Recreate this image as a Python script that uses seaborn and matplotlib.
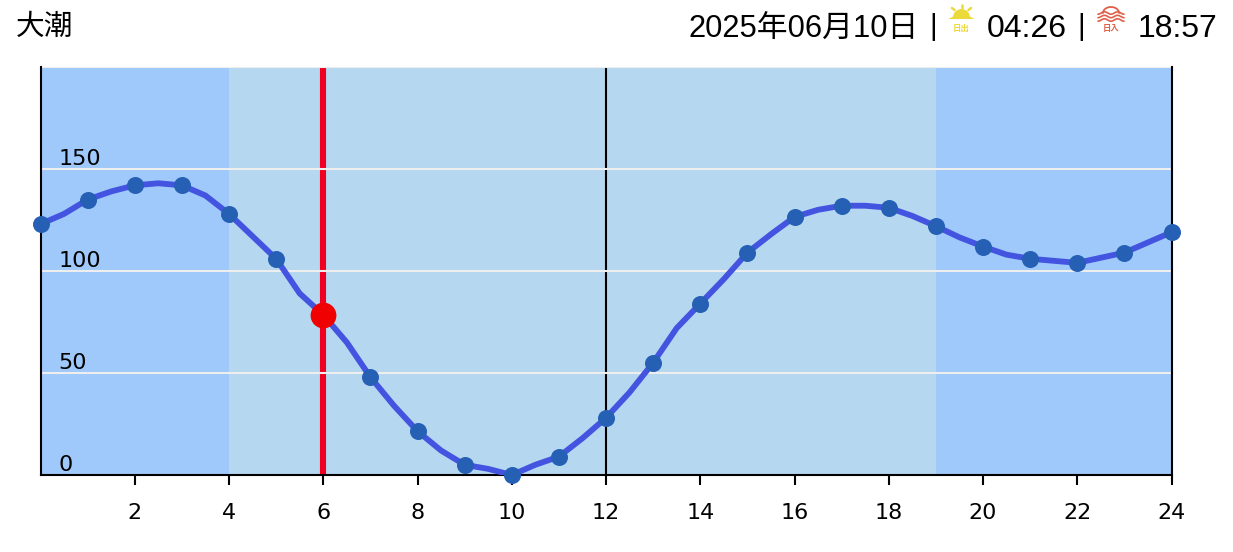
import numpy as np
import pandas as pd
import matplotlib
matplotlib.use("Agg")
import matplotlib.pyplot as plt
import seaborn as sns
from matplotlib.patches import Polygon, Wedge

# marea por hora (cm)
hours = list(range(25))
tide_hourly = [123, 135, 142, 142, 128, 106, 78.5, 48, 21.5, 5, 0, 9, 28,
               55, 84, 109, 126.5, 132, 131, 122, 112, 106, 104, 109, 119]
# puntos intermedios de la curva (cada media hora)
half_hours = [h + 0.5 for h in range(24)]
tide_half = [128, 139, 143, 137, 117, 89, 65, 34, 12, 3, 5, 18,
             40.5, 72, 96, 118, 130, 132, 127, 116.5, 108, 105, 106.5, 114]

current_hour = 6
current_tide = 78.5
night_bands = [(0, 4), (19, 24)]
day_band = (4, 19)
y_ticks = [0, 50, 100, 150]
x_ticks = list(range(2, 25, 2))

title_left = "大潮"
date_text = "2025年06月10日"
sunrise_text = "04:26"
sunset_text = "18:57"

curve = pd.DataFrame({"hour": hours + half_hours, "tide": tide_hourly + tide_half}).sort_values("hour")
dots = pd.DataFrame({"hour": hours, "tide": tide_hourly})

sns.set_theme(style="white")
plt.rcParams["font.family"] = ["DejaVu Sans"]
head_font = ["Liberation Sans", "Noto Sans CJK JP"]

W, H = 1233, 552
fig = plt.figure(figsize=(W / 100, H / 100), dpi=100)
ax = fig.add_axes([40.5 / W, 1 - 475 / H, (1171.5 - 40.5) / W, (475 - 67) / H])

# fondo dia / noche
for a, b in night_bands:
    ax.axvspan(a, b, color="#9fc9fa", lw=0, zorder=0)
ax.axvspan(day_band[0], day_band[1], color="#b5d7f0", lw=0, zorder=0)

ax.axvline(12, color="black", lw=1.5, zorder=1)
ax.axvline(current_hour, color="#f00020", lw=4.4, zorder=1)
for v in y_ticks[1:] + [200]:
    ax.axhline(v, color="#eeeeee", lw=1.5, zorder=2)

sns.lineplot(data=curve, x="hour", y="tide", color="#4355e0", lw=4.2, ax=ax,
             errorbar=None, zorder=3)
sns.scatterplot(data=dots, x="hour", y="tide", color="#2560b5", s=150, linewidth=0,
                ax=ax, clip_on=False, zorder=4)
ax.scatter([current_hour], [current_tide], color="#f00000", s=345, linewidth=0, zorder=5)

ax.set_xlim(0, 24)
ax.set_ylim(0, 200)
ax.set_xlabel("")
ax.set_ylabel("")
ax.set_xticks(x_ticks)
ax.set_yticks(y_ticks)
ax.tick_params(axis="x", bottom=True, length=7.2, width=1.5, color="black", labelsize=16,
               pad=13, labelcolor="black")
ax.tick_params(axis="y", left=False, length=0, labelsize=16, pad=-13, labelcolor="black")
for lab in ax.get_yticklabels():
    lab.set_horizontalalignment("left")
    lab.set_verticalalignment("bottom")
ax.spines["top"].set_visible(False)
for side in ["left", "right", "bottom"]:
    ax.spines[side].set_visible(True)
    ax.spines[side].set_color("black")
    ax.spines[side].set_linewidth(1.5)

# cabecera e iconos en coordenadas de pixel
ov = fig.add_axes([0, 0, 1, 1], zorder=10)
ov.set_xlim(0, W)
ov.set_ylim(H, 0)
ov.axis("off")
ov.patch.set_alpha(0)

ov.text(16, 27, title_left, family=head_font, fontsize=20.7, color="black", va="center", ha="left")
ov.text(688, 30, date_text, family=head_font, fontsize=22.2, color="black", va="center", ha="left")
ov.text(933, 27, "|", family=head_font, fontsize=21, color="black", va="center", ha="center")
ov.text(987, 29, sunrise_text, family=head_font, fontsize=23, color="black", va="center", ha="left")
ov.text(1081, 27, "|", family=head_font, fontsize=21, color="black", va="center", ha="center")
ov.text(1138, 29, sunset_text, family=head_font, fontsize=23, color="black", va="center", ha="left")

# icono salida del sol
sun = "#ecd93a"
ov.add_patch(Wedge((961.5, 17.5), 8.5, 180, 360, color=sun, lw=0))
ov.add_patch(Polygon([(948.5, 19), (974.5, 19), (970, 16.5), (953, 16.5)], closed=True, color=sun, lw=0))
for x0, y0, x1, y1 in [(961.5, 4.5, 961.5, 8), (952, 8, 954.5, 10), (971, 8, 968.5, 10)]:
    ov.plot([x0, x1], [y0, y1], color=sun, lw=1.8)
ov.text(961.5, 29, "日出", family=head_font, fontsize=6, color=sun, va="center", ha="center", weight="bold")

# icono puesta del sol
dusk = "#e0604a"
t = np.linspace(0, np.pi, 30)
ov.plot(1111 + 8 * np.cos(t), 13 - 6 * np.sin(t), color=dusk, lw=1.3)
wave_x = np.linspace(1098, 1124, 40)
for base in [13, 16.5, 20]:
    ov.plot(wave_x, base + 1.2 * np.cos((wave_x - 1111) * 0.48), color=dusk, lw=1.2)
ov.text(1111, 29, "日入", family=head_font, fontsize=6, color=dusk, va="center", ha="center", weight="bold")

fig.savefig("out.png", dpi=100)
